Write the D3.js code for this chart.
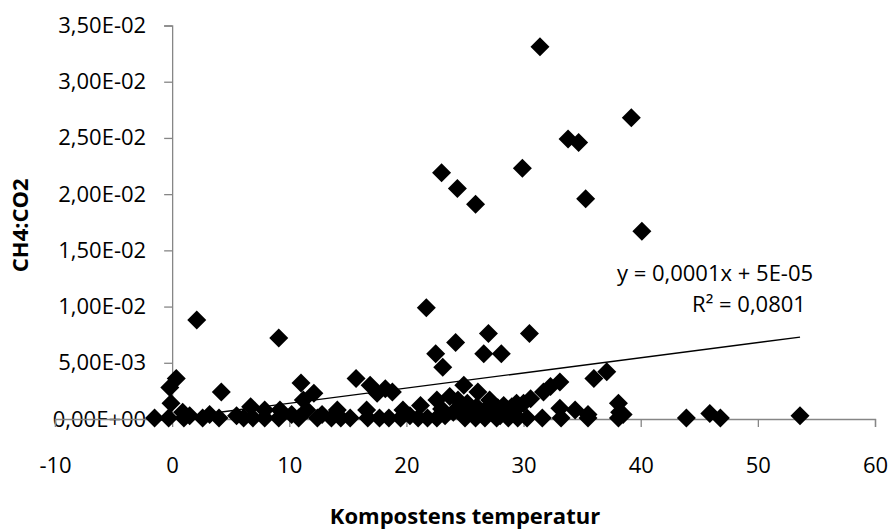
<!DOCTYPE html>
<html>
<head>
<meta charset="utf-8">
<script src="https://cdn.jsdelivr.net/npm/d3@7"></script>
<style>
  html, body { margin: 0; padding: 0; background: #fff; }
  svg { display: block; font-family: "Open Sans", "Noto Sans", sans-serif; }
</style>
</head>
<body>
<svg id="chart" width="891" height="529"></svg>
<script>
// Compost temperature (°C) against CH4:CO2 ratio
const temperature = [
  31.4, 39.2, 33.8, 34.7, 29.9, 23.0, 24.35, 25.9, 35.3, 40.1,
  21.7, 2.1, 9.1, 27.0, 30.5, 24.2, 22.5, 26.6, 28.1, 23.1,
  0.35, -0.2, -0.1, 4.2, 0.9, 6.7, 7.9,
  11.0, 12.1, 11.2, 15.7, 16.9, 18.2, 17.5, 18.8,
  9.2, 11.5, 14.1, 16.6,
  19.7, 21.2, 22.6, 23.7, 24.4, 24.9, 26.1, 27.1, 28.3, 29.4,
  33.1, 32.3, 31.7, 30.6, 30.0, 29.3, 36.0, 37.1, 38.1, 38.2, 38.5, 33.1, 34.4, 35.5,
  43.9, 45.9, 46.8, 53.6,
  -1.5, -0.3, 1.0, 2.6, 4.0, 6.1, 6.9, 7.9, 9.1, 10.8, 12.4, 13.6, 14.4, 15.2,
  16.7, 17.7, 18.5, 19.5, 21.0, 21.8, 22.6, 25.0, 25.9, 26.7, 27.7, 28.7, 29.5,
  30.3, 31.6, 33.2, 35.5, 38.1,
  25.5, 26.3, 27.5, 28.0, 20.3, 23.3, 24.0, 5.5,
  25.2, 26.0, 26.8, 27.8, 28.6, 29.0, 24.6, 23.0, 12.8, 10.2, 1.5, 3.2
];
const ratio = [
  0.0331, 0.0268, 0.0249, 0.0246, 0.0223, 0.0219, 0.0205, 0.0191, 0.0196, 0.0167,
  0.0099, 0.0088, 0.0072, 0.0076, 0.0076, 0.0068, 0.0058, 0.0058, 0.0058, 0.0046,
  0.0036, 0.0028, 0.0014, 0.0024, 0.0006, 0.0011, 0.0008,
  0.0032, 0.0023, 0.0017, 0.0036, 0.0030, 0.0027, 0.0023, 0.0024,
  0.0008, 0.0008, 0.0008, 0.0008,
  0.0008, 0.0012, 0.0017, 0.0020, 0.0017, 0.0030, 0.0024, 0.0017, 0.0012, 0.0014,
  0.0033, 0.0029, 0.0024, 0.0018, 0.0014, 0.0008, 0.0036, 0.0042, 0.0014, 0.0006, 0.0004, 0.00095, 0.0008, 0.0004,
  0.0001, 0.0005, 0.0001, 0.0003,
  0.0001, 0.0001, 0.0001, 0.0001, 0.0001, 0.0001, 0.0001, 0.0001, 0.0001, 0.0001, 0.0001, 0.0001, 0.0001, 0.0001,
  0.0001, 0.0001, 0.0001, 0.0001, 0.0001, 0.0001, 0.0001, 0.0001, 0.0001, 0.0001, 0.0001, 0.0001, 0.0001,
  0.0001, 0.0001, 0.0001, 0.0001, 0.0001,
  0.0009, 0.0005, 0.0006, 0.0003, 0.0003, 0.0003, 0.0006, 0.0003,
  0.0014, 0.0011, 0.0009, 0.0010, 0.0007, 0.0011, 0.0010, 0.0009, 0.0004, 0.0004, 0.0003, 0.0004
];

// Linear trendline coefficients and fit quality
const trendSlope = 0.000135;
const trendIntercept = 0.00005;
const trendR2 = 0.0801;

const xTicks = [-10, 0, 10, 20, 30, 40, 50, 60];
const yTicks = [0, 0.005, 0.01, 0.015, 0.02, 0.025, 0.03, 0.035];

const xTitle = "Kompostens temperatur";
const yTitle = "CH4:CO2";

const svg = d3.select("#chart");
const axisColor = "#868686";
const fontSize = 22;

const x = d3.scaleLinear().domain([-10, 60]).range([55, 875]);
const y = d3.scaleLinear().domain([0, 0.035]).range([419, 25.5]);

// Spreadsheet-style scientific labels, e.g. 3,50E-02
function sci(v) {
  if (v === 0) return "0,00E+00";
  const [m, e] = v.toExponential(2).split("e");
  const n = parseInt(e, 10);
  const exp = (n < 0 ? "-" : "+") + String(Math.abs(n)).padStart(2, "0");
  return m.replace(".", ",") + "E" + exp;
}

// Vertical axis sits at x = 0
const yAxis = d3.axisLeft(y).tickValues(yTicks).tickSize(8).tickPadding(18).tickFormat(sci);
const gy = svg.append("g").attr("transform", `translate(${x(0)},0)`).call(yAxis);
gy.select(".domain").attr("stroke", axisColor).attr("stroke-width", 1.3);
gy.selectAll(".tick line").attr("stroke", axisColor).attr("stroke-width", 1.3);
gy.selectAll(".tick text")
  .attr("fill", "#000").attr("font-size", fontSize)
  .attr("font-family", "'Open Sans', sans-serif");

// Horizontal axis at y = 0
const xAxis = d3.axisBottom(x).tickValues(xTicks).tickSize(8).tickPadding(30).tickFormat(d3.format("d"));
const gx = svg.append("g").attr("transform", `translate(0,${y(0)})`).call(xAxis);
gx.select(".domain").attr("stroke", axisColor).attr("stroke-width", 1.3);
gx.selectAll(".tick line").attr("stroke", axisColor).attr("stroke-width", 1.3);
gx.selectAll(".tick text")
  .attr("fill", "#000").attr("font-size", fontSize)
  .attr("font-family", "'Open Sans', sans-serif")
  .text(d => d < 0 ? "-" + Math.abs(d) : d);

// Diamond markers
const r = 9.5;
const points = temperature.map((t, i) => ({ t, v: ratio[i] }));
svg.append("g").selectAll("path")
  .data(points)
  .join("path")
  .attr("transform", d => `translate(${x(d.t)},${y(d.v)})`)
  .attr("d", `M0,${-r}L${r},0L0,${r}L${-r},0Z`)
  .attr("fill", "#000");

// Trendline across the observed temperature range
const tMin = d3.min(temperature), tMax = d3.max(temperature);
svg.append("line")
  .attr("x1", x(tMin)).attr("y1", y(trendSlope * tMin + trendIntercept))
  .attr("x2", x(tMax)).attr("y2", y(trendSlope * tMax + trendIntercept))
  .attr("stroke", "#000").attr("stroke-width", 1.4);

// Trendline equation and R²
const slopeText = trendSlope.toFixed(4).replace(".", ",");
const interceptText = trendIntercept.toExponential(0).replace("e", "E-0").replace("E-0-", "E-0");
const eq = svg.append("g").attr("font-size", fontSize).attr("fill", "#000").attr("text-anchor", "middle");
eq.append("text").attr("x", 715).attr("y", 281).text(`y = ${slopeText}x + ${interceptText}`);
eq.append("text").attr("x", 749).attr("y", 312).text(`R² = ${trendR2.toFixed(4).replace(".", ",")}`);

// Axis titles
svg.append("text")
  .attr("x", x(25)).attr("y", 524)
  .attr("text-anchor", "middle").attr("font-size", fontSize).attr("font-weight", "bold")
  .text(xTitle);
svg.append("text")
  .attr("transform", `translate(28,${(y(0) + y(0.035)) / 2 + 3}) rotate(-90)`)
  .attr("text-anchor", "middle").attr("font-size", fontSize).attr("font-weight", "bold")
  .text(yTitle);
</script>
</body>
</html>
